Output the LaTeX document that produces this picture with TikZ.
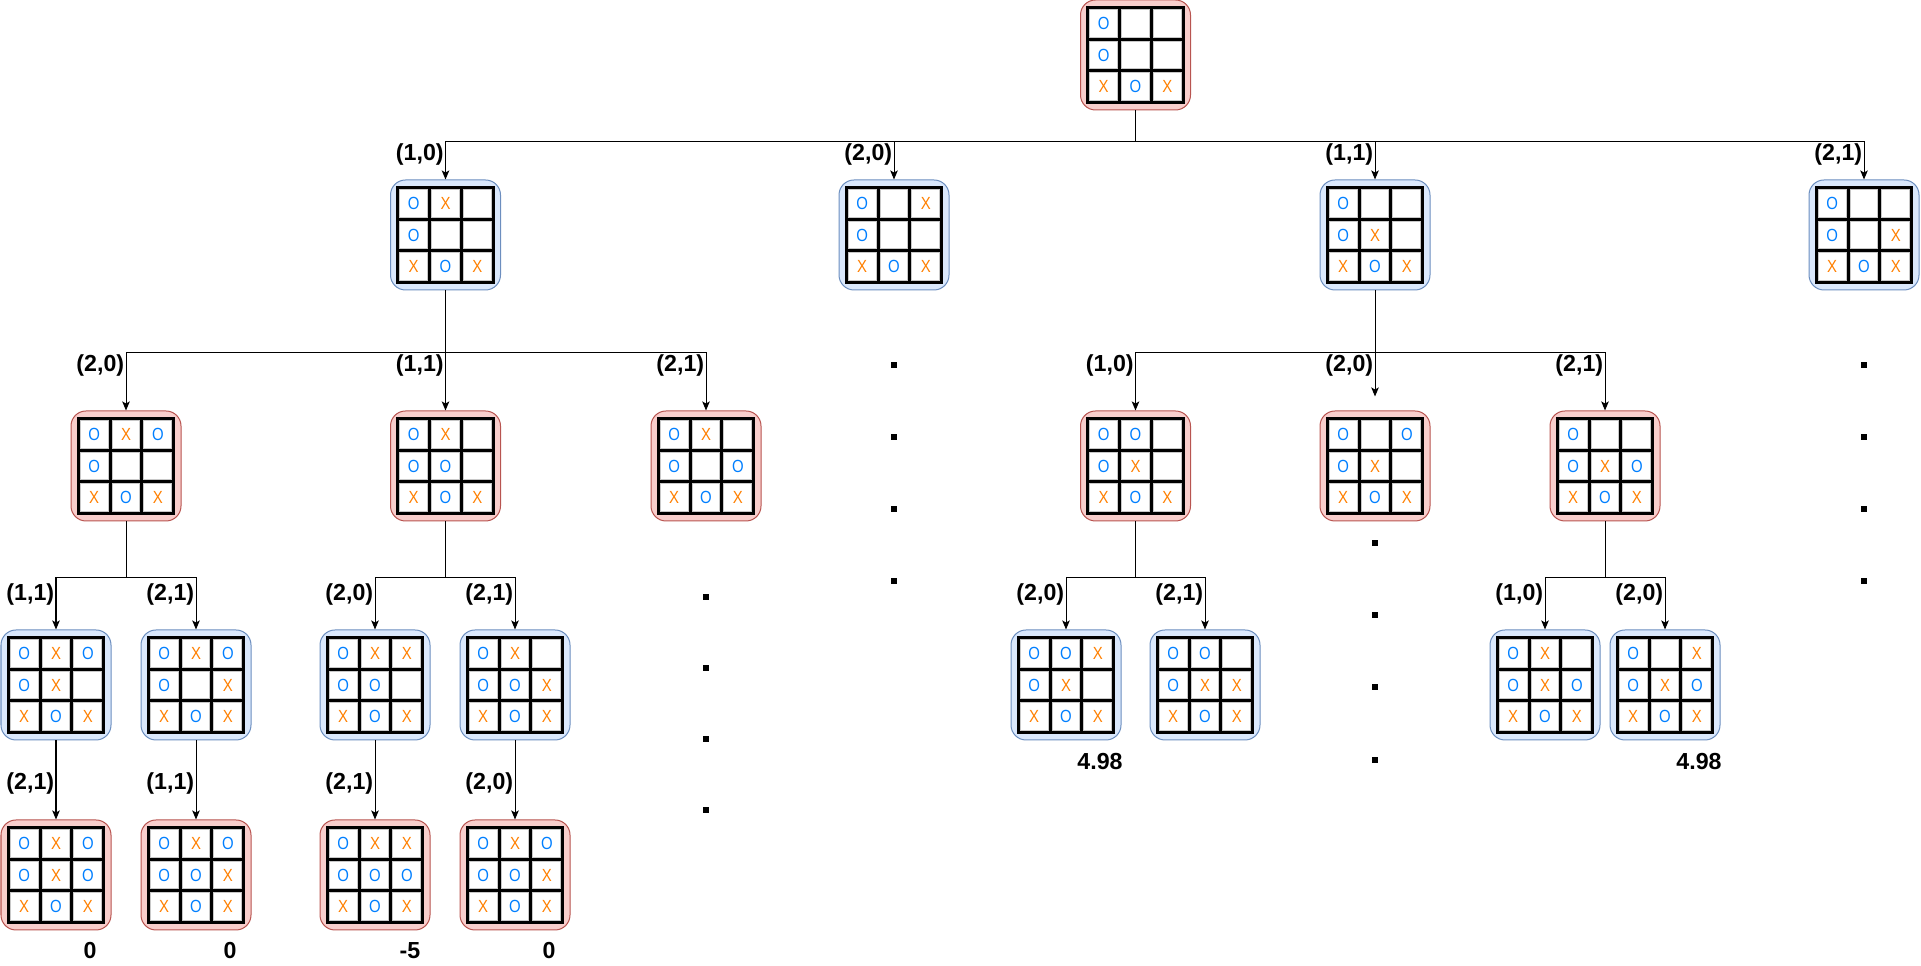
\documentclass[tikz,border=0pt]{standalone}
\usepackage{fontspec}
\setmainfont{Liberation Sans}
\newfontfamily\cellfont[FakeStretch=0.85]{Liberation Sans}
\usetikzlibrary{arrows.meta}

\definecolor{redfill}{HTML}{F8CECC}
\definecolor{redline}{HTML}{B85450}
\definecolor{bluefill}{HTML}{DAE8FC}
\definecolor{blueline}{HTML}{6C8EBF}
\definecolor{oblue}{HTML}{007FFF}
\definecolor{xorange}{HTML}{FF8000}
\definecolor{cellgray}{HTML}{C8C8C8}

% one cell of a board: board, row, column, mark (O, X or .)
\newcommand{\mk}[4]{%
  \draw [cellbox] ([shift={({(#3-2)*0.637-0.28},{(2-#2)*0.637-0.28})}]#1.center)
    rectangle ([shift={({(#3-2)*0.637+0.28},{(2-#2)*0.637+0.28})}]#1.center);
  \if#4O\node [omark] (#1-#2#3) at ([shift={({(#3-2)*0.637},{(2-#2)*0.637})}]#1.center) {O};\fi
  \if#4X\node [xmark] (#1-#2#3) at ([shift={({(#3-2)*0.637},{(2-#2)*0.637})}]#1.center) {X};\fi
}
\newcommand{\boardrow}[5]{\mk{#1}{#2}{1}{#3}\mk{#1}{#2}{2}{#4}\mk{#1}{#2}{3}{#5}}
% the grid inside a state node: node, row1, row2, row3
\newcommand{\board}[4]{%
  \boardrow{#1}{1}#2\boardrow{#1}{2}#3\boardrow{#1}{3}#4%
  \draw [gridline] (#1.center) +(-0.955,-0.955) rectangle +(0.955,0.955)
    +(-0.318,-0.955) -- +(-0.318,0.955) +(0.318,-0.955) -- +(0.318,0.955)
    +(-0.955,-0.318) -- +(0.955,-0.318) +(-0.955,0.318) -- +(0.955,0.318);
}

\begin{document}
\begin{tikzpicture}
[
state/.style={rectangle, rounded corners=0.3cm, minimum size=2.2cm, line width=0.57pt},
redstate/.style={state, draw=redline, fill=redfill},
bluestate/.style={state, draw=blueline, fill=bluefill},
cellbox/.style={draw=cellgray, fill=white, line width=0.6pt},
gridline/.style={black, line width=1.7pt},
omark/.style={text=oblue, inner sep=0, font=\cellfont\fontsize{10}{12}\selectfont},
xmark/.style={text=xorange, inner sep=0, font=\cellfont\fontsize{10}{12}\selectfont},
link/.style={-{Stealth[length=0.18cm, width=0.15cm, inset=0.04cm]}, line width=0.57pt},
lab/.style={anchor=east, inner sep=0, font=\bfseries\fontsize{13.2}{16}\selectfont},
score/.style={inner sep=0, font=\bfseries\fontsize{13.2}{16}\selectfont},
dotbox/.style={fill=black, minimum size=0.12cm, inner sep=0},
]
\useasboundingbox (0,0) rectangle (38.42,19.32);

% root
\node [redstate]  (S0)   at (22.71, 18.22) {};
\board{S0}{O..}{O..}{XOX}

% first move
\node [bluestate] (S1)   at ( 8.91, 14.62) {};
\node [bluestate] (S2)   at (17.88, 14.62) {};
\node [bluestate] (S3)   at (27.50, 14.62) {};
\node [bluestate] (S4)   at (37.28, 14.62) {};
\board{S1}{OX.}{O..}{XOX}
\board{S2}{O.X}{O..}{XOX}
\board{S3}{O..}{OX.}{XOX}
\board{S4}{O..}{O.X}{XOX}

\draw [link]  (S0.south) -- ++(0,-0.62) -| (S1.north);
\draw [link]  (S0.south) -- ++(0,-0.62) -| (S2.north);
\draw [link]  (S0.south) -- ++(0,-0.62) -| (S3.north);
\draw [link]  (S0.south) -- ++(0,-0.62) -| (S4.north);

\node [lab] (l1)  at ( 8.88, 16.22) {(1,0)};
\node [lab] (l2)  at (17.85, 16.22) {(2,0)};
\node [lab] (l3)  at (27.47, 16.22) {(1,1)};
\node [lab] (l4)  at (37.25, 16.22) {(2,1)};

% second move
\node [redstate]  (S11)  at ( 2.52, 10.00) {};
\node [redstate]  (S12)  at ( 8.91, 10.00) {};
\node [redstate]  (S13)  at (14.12, 10.00) {};
\node [redstate]  (S31)  at (22.71, 10.00) {};
\node [redstate]  (S32)  at (27.50, 10.00) {};
\node [redstate]  (S33)  at (32.10, 10.00) {};
\board{S11}{OXO}{O..}{XOX}
\board{S12}{OX.}{OO.}{XOX}
\board{S13}{OX.}{O.O}{XOX}
\board{S31}{OO.}{OX.}{XOX}
\board{S32}{O.O}{OX.}{XOX}
\board{S33}{O..}{OXO}{XOX}

\draw [link]  (S1.south) -- ++(0,-1.24) -| (S11.north);
\draw [link]  (S1.south) -- ++(0,-1.24) -| (S12.north);
\draw [link]  (S1.south) -- ++(0,-1.24) -| (S13.north);
\draw [link]  (S3.south) -- ++(0,-1.24) -| (S31.north);
\draw [link, shorten >=0.28cm]  (S3.south) -- (S32.north);
\draw [link]  (S3.south) -- ++(0,-1.24) -| (S33.north);

\node [lab] (l11) at ( 2.49, 12.00) {(2,0)};
\node [lab] (l12) at ( 8.88, 12.00) {(1,1)};
\node [lab] (l13) at (14.09, 12.00) {(2,1)};
\node [lab] (l31) at (22.68, 12.00) {(1,0)};
\node [lab] (l32) at (27.47, 12.00) {(2,0)};
\node [lab] (l33) at (32.07, 12.00) {(2,1)};

% third move
\node [bluestate] (S111) at ( 1.12, 5.62) {};
\node [bluestate] (S112) at ( 3.92, 5.62) {};
\node [bluestate] (S121) at ( 7.50, 5.62) {};
\node [bluestate] (S122) at (10.30, 5.62) {};
\node [bluestate] (S311) at (21.32, 5.62) {};
\node [bluestate] (S312) at (24.10, 5.62) {};
\node [bluestate] (S331) at (30.90, 5.62) {};
\node [bluestate] (S332) at (33.30, 5.62) {};
\board{S111}{OXO}{OX.}{XOX}
\board{S112}{OXO}{O.X}{XOX}
\board{S121}{OXX}{OO.}{XOX}
\board{S122}{OX.}{OOX}{XOX}
\board{S311}{OOX}{OX.}{XOX}
\board{S312}{OO.}{OXX}{XOX}
\board{S331}{OX.}{OXO}{XOX}
\board{S332}{O.X}{OXO}{XOX}

\draw [link]  (S11.south) -- ++(0,-1.13) -| (S111.north);
\draw [link]  (S11.south) -- ++(0,-1.13) -| (S112.north);
\draw [link]  (S12.south) -- ++(0,-1.13) -| (S121.north);
\draw [link]  (S12.south) -- ++(0,-1.13) -| (S122.north);
\draw [link]  (S31.south) -- ++(0,-1.13) -| (S311.north);
\draw [link]  (S31.south) -- ++(0,-1.13) -| (S312.north);
\draw [link]  (S33.south) -- ++(0,-1.13) -| (S331.north);
\draw [link]  (S33.south) -- ++(0,-1.13) -| (S332.north);

\node [lab] (l111) at ( 1.09, 7.42) {(1,1)};
\node [lab] (l112) at ( 3.89, 7.42) {(2,1)};
\node [lab] (l121) at ( 7.47, 7.42) {(2,0)};
\node [lab] (l122) at (10.27, 7.42) {(2,1)};
\node [lab] (l311) at (21.29, 7.42) {(2,0)};
\node [lab] (l312) at (24.07, 7.42) {(2,1)};
\node [lab] (l331) at (30.87, 7.42) {(1,0)};
\node [lab] (l332) at (33.27, 7.42) {(2,0)};

\node [score] (v311) at (22.00, 4.08) {4.98};
\node [score] (v332) at (33.98, 4.08) {4.98};

% last move
\node [redstate]  (S1111) at ( 1.12, 1.82) {};
\node [redstate]  (S1121) at ( 3.92, 1.82) {};
\node [redstate]  (S1211) at ( 7.50, 1.82) {};
\node [redstate]  (S1221) at (10.30, 1.82) {};
\board{S1111}{OXO}{OXO}{XOX}
\board{S1121}{OXO}{OOX}{XOX}
\board{S1211}{OXX}{OOO}{XOX}
\board{S1221}{OXO}{OOX}{XOX}

\draw [link]  (S111.south) -- (S1111.north);
\draw [link]  (S112.south) -- (S1121.north);
\draw [link]  (S121.south) -- (S1211.north);
\draw [link]  (S122.south) -- (S1221.north);

\node [lab] (l1111) at ( 1.09, 3.65) {(2,1)};
\node [lab] (l1121) at ( 3.89, 3.65) {(1,1)};
\node [lab] (l1211) at ( 7.47, 3.65) {(2,1)};
\node [lab] (l1221) at (10.27, 3.65) {(2,0)};

\node [score] (v1111) at ( 1.80, 0.30) {0};
\node [score] (v1121) at ( 4.60, 0.30) {0};
\node [score] (v1211) at ( 8.20, 0.30) {-5};
\node [score] (v1221) at (10.98, 0.30) {0};

% elided branches
\foreach \y [count=\i] in {12.02,10.58,9.14,7.70}
  {\node [dotbox] (da\i) at (17.88,\y) {};
   \node [dotbox] (dd\i) at (37.28,\y) {};}
\foreach \y [count=\i] in {7.38,5.96,4.54,3.12}
  \node [dotbox] (db\i) at (14.12,\y) {};
\foreach \y [count=\i] in {8.46,7.02,5.58,4.12}
  \node [dotbox] (dc\i) at (27.50,\y) {};

\end{tikzpicture}
\end{document}
